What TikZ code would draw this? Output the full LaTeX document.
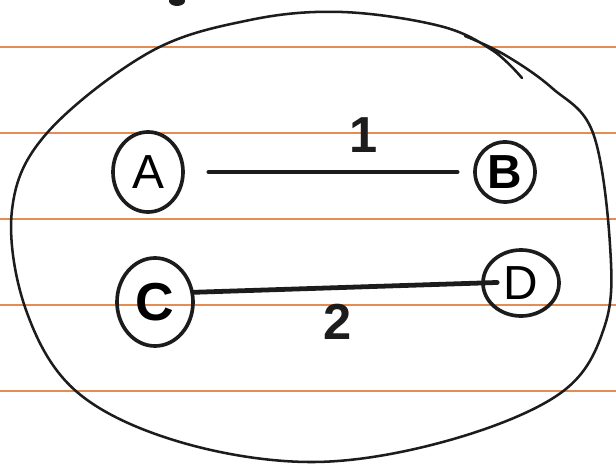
\documentclass[tikz,border=0pt]{standalone}
\usepackage{fontspec}
\setmainfont{Liberation Sans}
\usepackage{tikz}
\usetikzlibrary{shapes.geometric,positioning,calc}

\definecolor{paperline}{RGB}{228,140,82}
\definecolor{ink}{RGB}{28,28,28}

\begin{document}
\begin{tikzpicture}[
    x=0.025cm, y=-0.025cm,
    ruled/.style={paperline, line width=1.6pt},
    vertex/.style={ellipse, draw=ink, line width=2.6pt, inner sep=0pt, font=\fontsize{34}{34}\selectfont},
    link/.style={ink, line width=3.4pt, line cap=round},
    weight/.style={font=\fontsize{36}{36}\selectfont\bfseries, text=ink, inner sep=2pt},
    hull/.style={ink, line width=1.8pt, line cap=round},
]
\useasboundingbox (0,0) rectangle (616,465);
\fill[white] (0,0) rectangle (616,465);
% Paper lines
\foreach \ly in {47,133,219,305,391}
    \draw[ruled] (0,\ly) -- (616,\ly);
% Ink spot at the top
\fill[ink] (177,1) ellipse (8 and 5);
% Outer loop
\draw[hull] plot[smooth, tension=0.6] coordinates {(522,78) (492,50) (440,26) (342,12) (250,20) (150,52) (47,133) (12,210) (26,310) (77,392) (180,442) (314,462) (450,440) (562,392) (605,325) (610,245) (593,133) (552,88) (505,55) (465,36)};
% Vertices
\node[vertex, minimum width=1.75cm, minimum height=2cm] (A) at (148,172) {A};
\node[vertex, minimum width=1.5cm, minimum height=1.5cm, font=\fontsize{34}{34}\selectfont\bfseries] (B) at (505,172) {B};
\node[vertex, minimum width=1.9cm, minimum height=2.2cm, font=\fontsize{38}{38}\selectfont\bfseries] (C) at (155,302) {C};
\node[vertex, minimum width=1.9cm, minimum height=1.65cm] (D) at (521,283) {D};
% Edges
\draw[link, shorten <=0.6cm, shorten >=0.4cm] (A) -- node[weight, pos=0.62, above=10pt] (w1) {1} (B);
\draw[link, shorten >=-0.4cm] (C.14) -- node[weight, pos=0.5, below=8pt] (w2) {2} (D.west);
\end{tikzpicture}
\end{document}
